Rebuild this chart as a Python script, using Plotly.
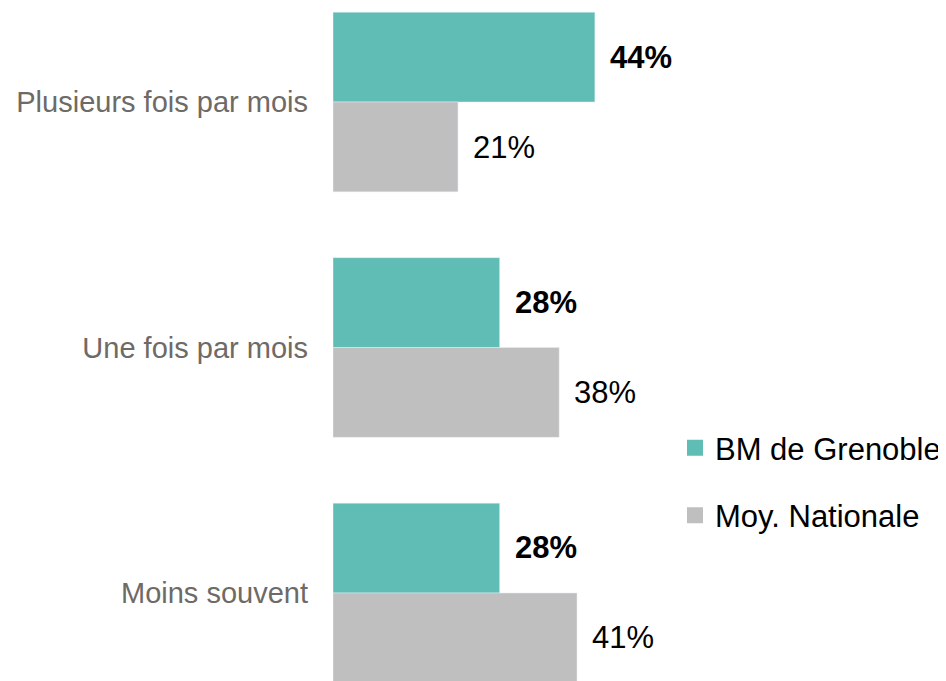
import plotly.graph_objects as go

categories = ['Plusieurs fois par mois', 'Une fois par mois', 'Moins souvent']
bm_grenoble = [44, 28, 28]
moy_nationale = [21, 38, 41]
series_names = ['BM de Grenoble', 'Moy. Nationale']

teal = '#5FBDB5'
grey = '#BFBFBF'
font_family = 'Liberation Sans, Arial, sans-serif'

fig = go.Figure()
fig.add_trace(go.Bar(y=categories, x=bm_grenoble, orientation='h', marker_color=teal,
                     name=series_names[0], showlegend=False, hoverinfo='x+y'))
fig.add_trace(go.Bar(y=categories, x=moy_nationale, orientation='h', marker_color=grey,
                     name=series_names[1], showlegend=False, hoverinfo='x+y'))

# legend entries as square markers
for name, col in zip(series_names, [teal, grey]):
    fig.add_trace(go.Scatter(x=[None], y=[None], mode='markers', name=name, legendgroup=name,
                             marker=dict(symbol='square', size=16, color=col)))

# value labels
for cat, v in zip(categories, bm_grenoble):
    fig.add_annotation(x=v, y=cat, text=f'<b>{v}%</b>', showarrow=False, xanchor='left',
                       xshift=13, yshift=45, font=dict(size=31, color='black', family=font_family))
for cat, v in zip(categories, moy_nationale):
    fig.add_annotation(x=v, y=cat, text=f'{v}%', showarrow=False, xanchor='left',
                       xshift=13, yshift=-45, font=dict(size=31, color='black', family=font_family))

# page body has an 8px margin, so the figure is sized to fit the window
fig.update_layout(
    width=938, height=673,
    margin=dict(l=325, r=0, t=0, b=0),
    paper_bgcolor='white', plot_bgcolor='white',
    barmode='group', bargap=0.268, bargroupgap=0,
    font=dict(family=font_family),
    showlegend=True,
    legend=dict(x=0.558, y=0.386, xanchor='left', yanchor='top', tracegroupgap=24,
                font=dict(size=31, color='black', family=font_family),
                bgcolor='rgba(0,0,0,0)'),
    xaxis=dict(range=[0, 103], visible=False),
    yaxis=dict(categoryorder='array', categoryarray=categories, range=[2.3585, -0.3829],
               showgrid=False, zeroline=False, showline=False, ticks='',
               ticklabelstandoff=24,
               tickfont=dict(size=29, color='#6E6A66', family=font_family)),
)

fig.write_html('out.html')
